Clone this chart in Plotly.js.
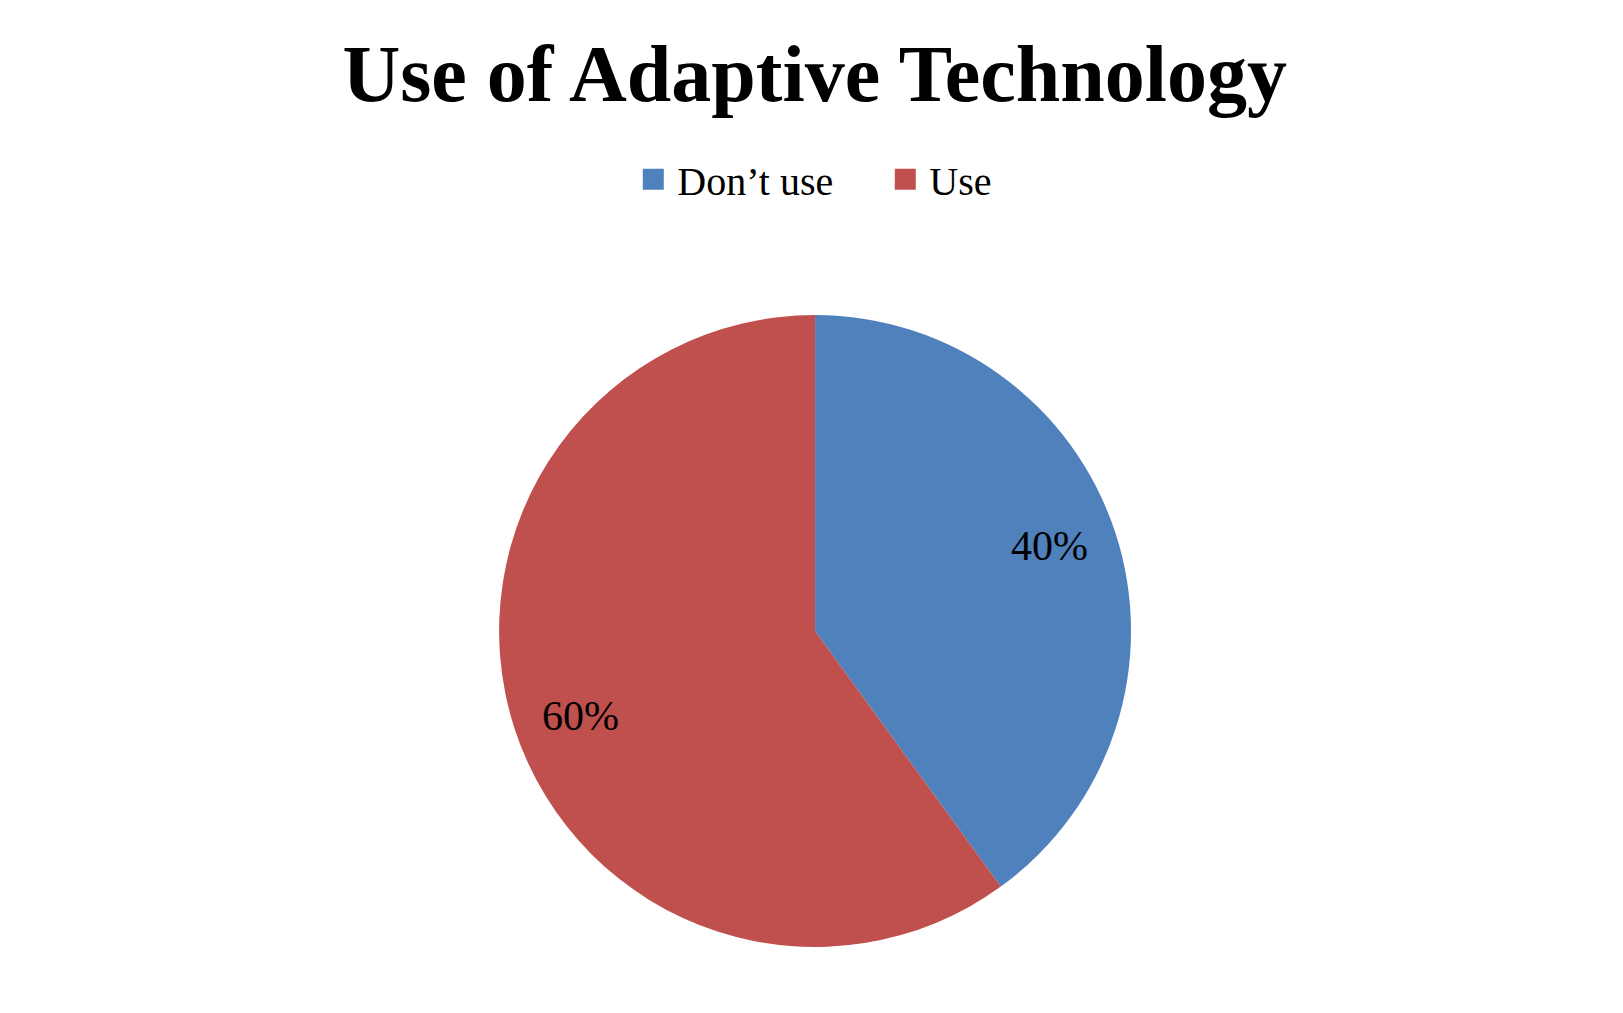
<!DOCTYPE html>
<html>
<head>
<meta charset="utf-8">
<script src="https://cdn.plot.ly/plotly-3.0.1.min.js"></script>
<style>html,body{margin:0;padding:0;background:#fff;}#chart{width:1623px;height:1013px;}</style>
</head>
<body>
<div id="chart"></div>
<script>
const categories = ["Don’t use", "Use"];
const values = [40, 60];
const colors = ["#4F81BD", "#C0504D"];
const chartTitle = "Use of Adaptive Technology";

const trace = {
  type: "pie",
  labels: categories,
  values: values,
  sort: false,
  direction: "clockwise",
  rotation: 0,
  marker: {colors: colors, line: {width: 0}},
  textinfo: "percent",
  texttemplate: "%{percent:.0%}",
  textposition: "inside",
  insidetextorientation: "horizontal",
  textfont: {family: "Liberation Serif, serif", size: 42, color: "#000"},
  hoverinfo: "label+percent",
  domain: {x: [0.3075, 0.6969], y: [0.0652, 0.689]}
};

const layout = {
  width: 1623,
  height: 1013,
  margin: {l: 0, r: 0, t: 0, b: 0},
  paper_bgcolor: "#fff",
  title: {
    text: "<b>" + chartTitle + "</b>",
    font: {family: "Liberation Serif, serif", size: 80, color: "#000"},
    x: 0.502, xanchor: "center",
    y: 0.928, yanchor: "middle"
  },
  showlegend: true,
  legend: {
    orientation: "h",
    x: 0.543, xanchor: "center",
    y: 0.823, yanchor: "middle",
    font: {family: "Liberation Serif, serif", size: 40, color: "#000"},
    traceorder: "normal",
    itemwidth: 38,
    entrywidth: 199
  }
};

Plotly.newPlot("chart", [trace], layout, {displayModeBar: false, staticPlot: true}).then(function(){
  document.querySelectorAll(".legendpoints path").forEach(function(p){
    p.setAttribute("transform", (p.getAttribute("transform")||"") + " scale(1.75)");
  });
  // move the percentage labels further out along their slice direction, like the reference
  const pieG = document.querySelector(".pielayer .trace");
  const paths = pieG.querySelectorAll("path.surface");
  let x0 = Infinity, y0 = Infinity, x1 = -Infinity, y1 = -Infinity;
  paths.forEach(function(p){
    const b = p.getBoundingClientRect();
    x0 = Math.min(x0, b.left); y0 = Math.min(y0, b.top);
    x1 = Math.max(x1, b.right); y1 = Math.max(y1, b.bottom);
  });
  const cx = (x0 + x1) / 2, cy = (y0 + y1) / 2, R = (x1 - x0) / 2;
  const factor = 0.79, rot = -2 * Math.PI / 180;
  pieG.querySelectorAll("g.slicetext").forEach(function(g){
    const b = g.getBoundingClientRect();
    const tx = (b.left + b.right) / 2, ty = (b.top + b.bottom) / 2;
    const th = Math.atan2(tx - cx, -(ty - cy)) + rot;
    const nx = cx + factor * R * Math.sin(th), ny = cy - factor * R * Math.cos(th);
    g.setAttribute("transform", "translate(" + (nx - tx) + "," + (ny - ty) + ")");
  });
});
</script>
</body>
</html>
